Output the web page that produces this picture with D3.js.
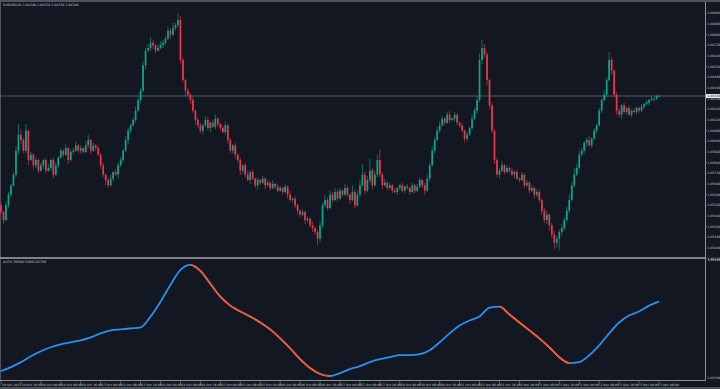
<!DOCTYPE html>
<html>
<head>
<meta charset="utf-8">
<script src="https://cdn.jsdelivr.net/npm/d3@7"></script>
<style>
  html, body { margin: 0; padding: 0; background: #131722; }
  svg { display: block; font-family: "DejaVu Sans", sans-serif; }
</style>
</head>
<body>
<svg id="chart" width="720" height="389"></svg>
<script>
const symbol = 'EURUSD,H1';
const indicatorName = 'AUTO TREND FORECASTER';

// H1 closes, open of each bar = previous close
const firstOpen = 1.0552;
const closes = [
  1.0547,1.0541,1.0552,1.0560,1.0567,1.0575,1.0593,1.0605,
  1.0601,1.0593,1.0608,1.0586,1.0590,1.0582,1.0586,1.0578,
  1.0582,1.0586,1.0578,1.0580,1.0586,1.0575,1.0582,1.0588,
  1.0593,1.0590,1.0595,1.0586,1.0592,1.0593,1.0597,1.0593,
  1.0595,1.0592,1.0597,1.0601,1.0593,1.0597,1.0595,1.0590,
  1.0582,1.0575,1.0571,1.0567,1.0572,1.0577,1.0575,1.0582,
  1.0586,1.0593,1.0601,1.0608,1.0612,1.0616,1.0623,1.0631,
  1.0638,1.0657,1.0668,1.0670,1.0674,1.0672,1.0668,1.0670,
  1.0672,1.0674,1.0677,1.0683,1.0680,1.0685,1.0687,1.0691,
  1.0661,1.0646,1.0638,1.0635,1.0631,1.0623,1.0616,1.0612,
  1.0608,1.0612,1.0616,1.0610,1.0614,1.0611,1.0617,1.0613,
  1.0610,1.0607,1.0612,1.0601,1.0593,1.0597,1.0590,1.0586,
  1.0578,1.0582,1.0575,1.0571,1.0577,1.0572,1.0567,1.0571,
  1.0569,1.0572,1.0567,1.0569,1.0565,1.0568,1.0566,1.0563,
  1.0565,1.0562,1.0566,1.0560,1.0556,1.0557,1.0552,1.0548,
  1.0545,1.0547,1.0541,1.0542,1.0537,1.0535,1.0532,1.0527,
  1.0537,1.0552,1.0556,1.0550,1.0560,1.0556,1.0562,1.0557,
  1.0563,1.0560,1.0565,1.0560,1.0556,1.0562,1.0552,1.0560,
  1.0567,1.0575,1.0563,1.0571,1.0578,1.0567,1.0575,1.0586,
  1.0575,1.0567,1.0569,1.0565,1.0567,1.0563,1.0562,1.0565,
  1.0567,1.0563,1.0566,1.0565,1.0562,1.0567,1.0563,1.0566,
  1.0571,1.0567,1.0563,1.0572,1.0582,1.0593,1.0601,1.0608,
  1.0612,1.0617,1.0614,1.0620,1.0616,1.0617,1.0620,1.0614,
  1.0612,1.0608,1.0602,1.0605,1.0610,1.0617,1.0623,1.0631,
  1.0661,1.0670,1.0665,1.0646,1.0627,1.0608,1.0586,1.0575,
  1.0578,1.0582,1.0577,1.0580,1.0578,1.0575,1.0577,1.0572,
  1.0571,1.0575,1.0567,1.0569,1.0563,1.0565,1.0560,1.0562,
  1.0556,1.0548,1.0541,1.0545,1.0537,1.0530,1.0524,1.0527,
  1.0532,1.0535,1.0541,1.0548,1.0556,1.0567,1.0575,1.0580,
  1.0590,1.0593,1.0599,1.0601,1.0597,1.0602,1.0608,1.0612,
  1.0623,1.0631,1.0635,1.0646,1.0661,1.0653,1.0635,1.0623,
  1.0620,1.0627,1.0622,1.0625,1.0620,1.0623,1.0622,1.0625,
  1.0623,1.0626,1.0628,1.0629,1.0631,1.0632,1.0632,1.0634,1.0634
];
// wick lengths in pips above / below the body
const wickUp = [
  2,1,3,2,1,2,3,8, 4,2,5,1,2,1,2,1, 2,1,2,3,1,2,2,1, 2,1,3,1,2,2,3,1,
  2,1,3,4,1,2,1,2, 1,2,1,2,3,1,2,2, 2,1,3,2,1,2,3,2, 2,3,2,3,4,2,1,3,
  3,2,2,3,2,4,2,5, 3,2,1,2,1,2,1,2, 2,1,3,2,1,2,3,1, 1,2,3,1,2,1,2,1,
  2,1,2,3,1,2,1,2, 1,2,1,2,1,3,1,2, 2,1,2,1,3,1,2,1, 1,2,1,2,1,3,1,2,
  3,2,4,2,3,2,3,2, 2,1,3,2,1,5,2,3, 4,8,2,3,9,2,3,4, 8,2,3,1,2,1,2,1,
  1,2,1,2,1,2,1,2, 2,1,2,3,2,3,2,3, 3,2,1,2,3,1,2,1, 1,2,1,2,1,3,2,3,
  5,6,3,2,1,2,1,2, 2,3,1,2,1,2,1,2, 1,2,1,2,1,2,1,2, 2,1,2,3,1,2,3,2,
  2,3,2,3,4,3,5,3, 3,2,1,2,3,1,2,1, 2,1,3,2,6,2,1,2, 2,1,2,1,2,1,2,1,
  1,2,1,2,1,2,1,1,1
];
const wickDown = [
  2,3,1,2,2,1,2,3, 3,2,2,4,1,3,2,2, 1,3,2,1,2,3,1,2, 1,2,1,3,1,2,1,2,
  2,1,1,2,3,1,2,1, 3,2,4,2,1,2,1,3, 1,2,1,3,2,1,2,1, 2,1,3,1,2,3,2,1,
  1,2,2,1,3,1,2,2, 3,2,4,2,3,2,4,2, 2,3,1,2,3,1,2,2, 2,1,2,3,2,2,3,2,
  3,2,2,1,3,1,2,3, 2,1,3,1,2,1,2,1, 1,2,1,3,1,2,2,3, 2,1,3,2,2,3,2,5,
  3,2,1,2,1,2,1,2, 1,2,1,2,3,1,2,1, 2,1,3,1,2,3,1,2, 2,3,1,2,1,2,1,2,
  2,1,2,1,2,1,2,1, 1,2,3,1,2,1,2,1, 2,1,2,1,2,1,2,2, 2,1,3,2,1,2,1,2,
  2,3,2,4,3,2,3,2, 3,1,2,1,2,1,3,1, 2,1,2,1,2,1,3,2, 2,3,2,3,4,3,5,4,
  9,3,2,1,2,1,2,1, 2,1,2,3,1,2,1,2, 1,2,1,2,1,3,2,3, 2,3,1,2,1,2,1,2,
  2,1,2,1,2,1,2,1,1
];

// trend forecaster line, one value every 4 bars
const trendStep = 4;
const trendValues = [
  1.0537,1.0541,1.0546,1.0552,1.0557,1.0561,1.0564,1.0566,1.0568,1.0571,
  1.0575,1.0578,1.0579,1.0580,1.0581,1.0592,1.0607,1.0624,1.0639,1.0644,
  1.0638,1.0625,1.0612,1.0603,1.0597,1.0592,1.0586,1.0579,1.0570,1.0560,
  1.0549,1.0540,1.0534,1.0532,1.0535,1.0539,1.0542,1.0546,1.0549,1.0551,
  1.0553,1.0553,1.0554,1.0558,1.0566,1.0575,1.0583,1.0588,1.0592,1.0601,
  1.0602,1.0594,1.0586,1.0578,1.0570,1.0561,1.0551,1.0545,1.0546,1.0553,
  1.0563,1.0575,1.0586,1.0593,1.0597,1.0603,1.0607
];

const priceTicks = [
  1.0696,1.0688,1.0680,1.0672,1.0664,1.0656,1.0648,1.0640,1.0632,1.0624,1.0616,1.0608,
  1.0600,1.0592,1.0584,1.0576,1.0568,1.0560,1.0552,1.0544,1.0536,1.0528,1.0520,1.0512
];
const trendTicks = [1.0649, 1.0530];

const labelStep = 8;
const timeLabels = [
  '19 Oct 2023','19 Oct 16:00','20 Oct 00:00','20 Oct 08:00','20 Oct 16:00',
  '23 Oct 00:00','23 Oct 08:00','23 Oct 16:00','24 Oct 00:00','24 Oct 08:00',
  '24 Oct 16:00','25 Oct 00:00','25 Oct 08:00','25 Oct 16:00','26 Oct 00:00',
  '26 Oct 08:00','26 Oct 16:00','27 Oct 00:00','27 Oct 08:00','27 Oct 16:00',
  '30 Oct 00:00','30 Oct 08:00','30 Oct 16:00','31 Oct 00:00','31 Oct 08:00',
  '31 Oct 16:00','1 Nov 00:00','1 Nov 08:00','1 Nov 16:00','2 Nov 00:00',
  '2 Nov 08:00','2 Nov 16:00','3 Nov 00:00','3 Nov 08:00'
];

const W = 720, H = 389;
const plotRight = 705;
const mainTop = 3, mainBottom = 257;
const subTop = 259, subBottom = 380;

const bull = '#0aa88a', bear = '#f2364a';
const trendUp = '#2b8ff0', trendDown = '#ff561f';
const axisCol = '#8b9099', textCol = '#c9cdd4';
const fmt = d3.format('.5f');

const candles = closes.map((c, i) => {
  const o = i === 0 ? firstOpen : closes[i - 1];
  return {
    i, o, c,
    h: Math.max(o, c) + wickUp[i] * 1e-4,
    l: Math.min(o, c) - wickDown[i] * 1e-4
  };
});

const x = d3.scaleLinear().domain([0, closes.length - 1]).range([1, 659]);
const y = d3.scaleLinear().domain([1.051325, 1.070375]).range([mainBottom, mainTop]);
const yT = d3.scaleLinear().domain([1.0530, 1.0649]).range([subBottom - 2, subTop + 1]);

const svg = d3.select('#chart');

svg.append('rect').attr('width', W).attr('height', H).attr('fill', '#131722');

// frame
svg.append('rect').attr('x', 0).attr('y', 0).attr('width', W).attr('height', 2).attr('fill', '#50545c');
svg.append('rect').attr('x', 0).attr('y', 387).attr('width', W).attr('height', 2).attr('fill', '#50545c');
svg.append('line').attr('x1', 0.5).attr('x2', 0.5).attr('y1', 2).attr('y2', subBottom)
  .attr('stroke', '#50545c').attr('stroke-width', 1);

// current price line
const last = candles[candles.length - 1];
svg.append('line')
  .attr('x1', 0).attr('x2', plotRight)
  .attr('y1', y(last.c)).attr('y2', y(last.c))
  .attr('stroke', '#6c7079').attr('stroke-width', 0.8);

// candles
const cg = svg.append('g');
cg.selectAll('line.wick')
  .data(candles)
  .join('line')
  .attr('class', 'wick')
  .attr('x1', d => x(d.i)).attr('x2', d => x(d.i))
  .attr('y1', d => y(d.h)).attr('y2', d => y(d.l))
  .attr('stroke', d => d.c >= d.o ? bull : bear)
  .attr('stroke-opacity', 0.6)
  .attr('stroke-width', 1);

cg.selectAll('rect.body')
  .data(candles)
  .join('rect')
  .attr('class', 'body')
  .attr('x', d => x(d.i) - 0.85)
  .attr('width', 1.7)
  .attr('y', d => y(Math.max(d.o, d.c)))
  .attr('height', d => Math.max(0.8, Math.abs(y(d.o) - y(d.c))))
  .attr('fill', d => d.c >= d.o ? bull : bear);

// pane separator
svg.append('line')
  .attr('x1', 0).attr('x2', plotRight)
  .attr('y1', mainBottom + 1).attr('y2', mainBottom + 1)
  .attr('stroke', '#a3a8b0').attr('stroke-width', 1.5);

// indicator pane bottom line
svg.append('line')
  .attr('x1', 0).attr('x2', plotRight)
  .attr('y1', subBottom + 0.5).attr('y2', subBottom + 0.5)
  .attr('stroke', axisCol).attr('stroke-width', 1);

// price axis
svg.append('line')
  .attr('x1', plotRight + 0.5).attr('x2', plotRight + 0.5)
  .attr('y1', 2).attr('y2', subBottom + 1)
  .attr('stroke', axisCol).attr('stroke-width', 1);

const axG = svg.append('g').style('font-size', '3.2px').attr('fill', textCol);
axG.selectAll('line.pt')
  .data(priceTicks)
  .join('line')
  .attr('class', 'pt')
  .attr('x1', plotRight).attr('x2', plotRight + 2)
  .attr('y1', d => y(d)).attr('y2', d => y(d))
  .attr('stroke', axisCol).attr('stroke-width', 0.6);
axG.selectAll('text.pl')
  .data(priceTicks)
  .join('text')
  .attr('class', 'pl')
  .attr('x', plotRight + 2.5)
  .attr('y', d => y(d) + 1.1)
  .text(d => fmt(d));

axG.selectAll('text.tl')
  .data(trendTicks)
  .join('text')
  .attr('class', 'tl')
  .attr('x', plotRight + 2.5)
  .attr('y', d => yT(d) + 1.1)
  .text(d => fmt(d));

// current price tag
svg.append('rect')
  .attr('x', plotRight + 1).attr('y', y(last.c) - 2)
  .attr('width', W - plotRight - 1).attr('height', 4)
  .attr('fill', '#e6e8ec');
svg.append('text')
  .attr('x', plotRight + 2.5).attr('y', y(last.c) + 1.1)
  .style('font-size', '3.2px').attr('fill', '#131722')
  .text(fmt(last.c));

// time axis
const ticks = timeLabels.map((t, k) => ({ i: k * labelStep, t }));
const tg = svg.append('g').style('font-size', '3.1px').attr('fill', textCol);
tg.selectAll('line')
  .data(ticks)
  .join('line')
  .attr('x1', d => x(d.i)).attr('x2', d => x(d.i))
  .attr('y1', subBottom + 1).attr('y2', subBottom + 5)
  .attr('stroke', axisCol).attr('stroke-width', 0.6);
tg.selectAll('text')
  .data(ticks)
  .join('text')
  .attr('x', d => x(d.i) + 1)
  .attr('y', subBottom + 5.5)
  .text(d => d.t);

// trend forecaster
const trend = trendValues.map((v, k) => ({ i: k * trendStep, v }));
const defs = svg.append('defs');
const clip = defs.append('clipPath').attr('id', 'falling');
trend.slice(1).forEach((d, k) => {
  const p = trend[k];
  if (d.v < p.v) {
    clip.append('rect')
      .attr('x', x(p.i)).attr('width', x(d.i) - x(p.i) + 0.3)
      .attr('y', subTop).attr('height', subBottom - subTop);
  }
});

const line = d3.line()
  .x(d => x(d.i))
  .y(d => yT(d.v))
  .curve(d3.curveMonotoneX);

svg.append('path')
  .datum(trend)
  .attr('d', line)
  .attr('fill', 'none')
  .attr('stroke', trendUp)
  .attr('stroke-width', 1.8);
svg.append('path')
  .datum(trend)
  .attr('d', line)
  .attr('fill', 'none')
  .attr('stroke', trendDown)
  .attr('stroke-width', 1.8)
  .attr('clip-path', 'url(#falling)');

// labels
svg.append('text')
  .attr('x', 3).attr('y', 6)
  .style('font-size', '3.2px').attr('fill', textCol)
  .text(`${symbol}  ${fmt(last.o)} ${fmt(last.h)} ${fmt(last.l)} ${fmt(last.c)}`);
svg.append('text')
  .attr('x', 3).attr('y', subTop + 4)
  .style('font-size', '3.2px').attr('fill', textCol)
  .text(indicatorName);
</script>
</body>
</html>
